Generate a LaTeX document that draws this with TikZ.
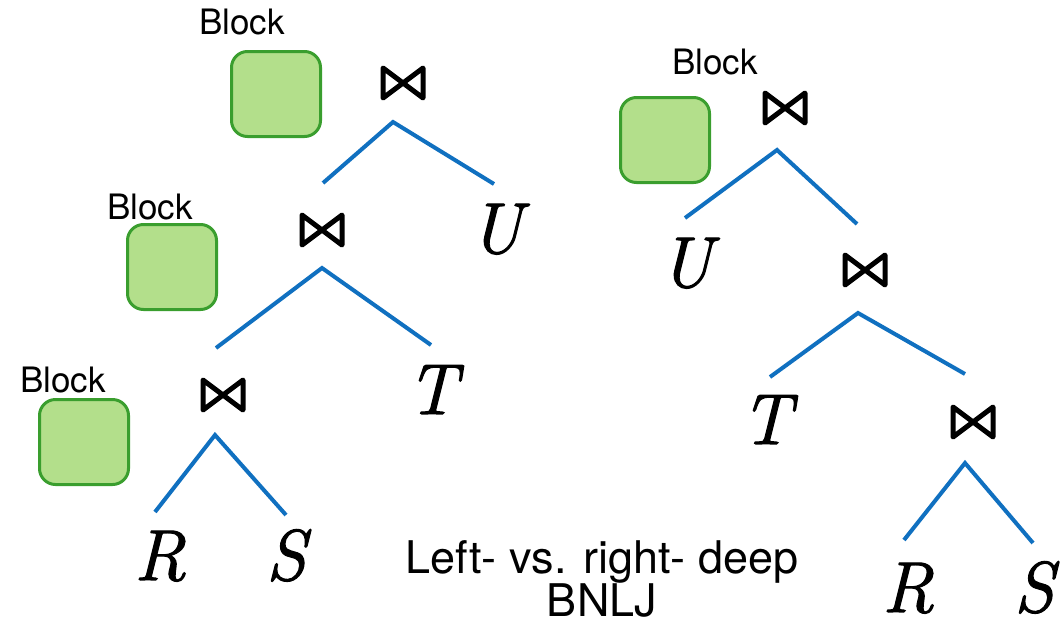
\documentclass[tikz,border=0pt]{standalone}
\usepackage{fontspec}
\setmainfont{TeX Gyre Heros}
\newfontfamily\letterfont{Latin Modern Roman}[ItalicFeatures={FakeBold=1.6}]
\definecolor{blockgreen}{HTML}{3A9E2E}
\definecolor{blockfill}{HTML}{B3DF8B}
\definecolor{edgeblue}{HTML}{1070C0}
\begin{document}
\begin{tikzpicture}[x=1pt,y=-1pt,
  blk/.style={draw=blockgreen, fill=blockfill, line width=3pt, rounded corners=16pt,
    minimum width=89pt, minimum height=85pt, inner sep=0pt},
  blklabel/.style={anchor=base, inner sep=0pt, font=\fontsize{35}{35}\selectfont},
  rel/.style={anchor=base, inner sep=0pt, font=\fontsize{72}{72}\selectfont\letterfont\itshape},
  bowtienode/.style={minimum width=50pt, minimum height=42pt, inner sep=0pt,
    path picture={\draw[line width=5pt, line join=round]
      ([shift={(-20,-15)}]path picture bounding box.center) --
      ([shift={(-20,15)}]path picture bounding box.center) --
      ([shift={(20,-15)}]path picture bounding box.center) --
      ([shift={(20,15)}]path picture bounding box.center) -- cycle;}},
  edge/.style={draw=edgeblue, line width=4pt},
  caption/.style={anchor=base, inner sep=0pt, font=\fontsize{45}{45}\selectfont}
]
\useasboundingbox (0,0) rectangle (1064,632);

% ---------- left-deep tree ----------
\node[blklabel] (bl1) at (242,34) {Block};
\node[blk] (b1) at (276,94) {};
\node[bowtienode] (j1) at (403,83) {};
\node[blklabel] (bl2) at (150,219) {Block};
\node[blk] (b2) at (172,267) {};
\node[bowtienode] (j2) at (322,230) {};
\node[blklabel] (bl3) at (63,392) {Block};
\node[blk] (b3) at (84,442) {};
\node[bowtienode] (j3) at (223,395) {};

\node[rel] (U1) at (496,253) {U};
\node[rel] (T1) at (432,414) {T};
\node[rel] (R1) at (160,580) {R};
\node[rel] (S1) at (286,580) {S};

\coordinate (a1) at (393,122);
\coordinate (a1l) at (323,183);
\coordinate (a1r) at (494,184);
\coordinate (a2) at (322,268);
\coordinate (a2l) at (216,348);
\coordinate (a2r) at (431,345);
\coordinate (a3) at (215,435);
\coordinate (a3l) at (155,512);
\coordinate (a3r) at (286,515);
\draw[edge] (a1l) -- (a1) -- (a1r);
\draw[edge] (a2l) -- (a2) -- (a2r);
\draw[edge] (a3l) -- (a3) -- (a3r);

% ---------- right-deep tree ----------
\node[blklabel] (bl4) at (715,74) {Block};
\node[blk] (b4) at (665,140) {};
\node[bowtienode] (k1) at (785,108) {};
\node[bowtienode] (k2) at (865,270) {};
\node[bowtienode] (k3) at (973,422) {};

\node[rel] (U2) at (686,287) {U};
\node[rel] (T2) at (766,444) {T};
\node[rel] (R2) at (908,612) {R};
\node[rel] (S2) at (1034,612) {S};

\coordinate (c1) at (777,150);
\coordinate (c1l) at (685,218);
\coordinate (c1r) at (857,224);
\coordinate (c2) at (858,313);
\coordinate (c2l) at (770,377);
\coordinate (c2r) at (965,374);
\coordinate (c3) at (965,463);
\coordinate (c3l) at (904,540);
\coordinate (c3r) at (1033,543);
\draw[edge] (c1l) -- (c1) -- (c1r);
\draw[edge] (c2l) -- (c2) -- (c2r);
\draw[edge] (c3l) -- (c3) -- (c3r);

% ---------- caption ----------
\node[caption] (cap1) at (602,573) {Left- vs. right- deep};
\node[caption] (cap2) at (602,616) {BNLJ};
\end{tikzpicture}
\end{document}
